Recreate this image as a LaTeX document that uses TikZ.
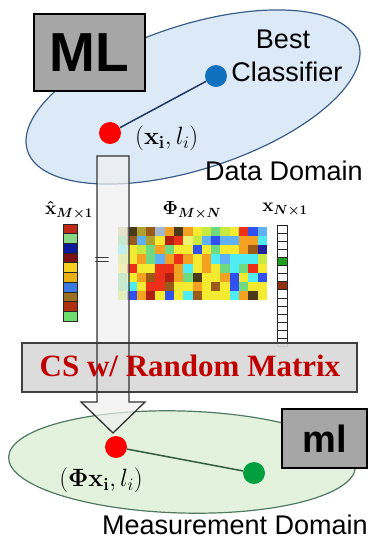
\RequirePackage{fix-cm}
\documentclass[tikz,border=0pt]{standalone}
\usepackage[no-math]{fontspec}
\usepackage{amsmath,bm}
\usetikzlibrary{shapes.geometric}
\newfontfamily\arial{Liberation Sans}
\newfontfamily\tnr{Liberation Serif}
\definecolor{ellblue}{HTML}{DCE9F6}
\definecolor{ellblueline}{HTML}{3A5E8C}
\definecolor{ellgreen}{HTML}{E3F2DC}
\definecolor{ellgreenline}{HTML}{4E7A62}
\definecolor{boxgray}{HTML}{A6A6A6}
\definecolor{csgray}{HTML}{D9D9D9}
\definecolor{csred}{HTML}{C00000}
\definecolor{dotblue}{HTML}{1070C0}
\definecolor{dotgreen}{HTML}{00A040}
\definecolor{navyline}{HTML}{1F3864}
\definecolor{greenline}{HTML}{2F5E3F}
\definecolor{mT}{HTML}{D0C470}
\definecolor{mK}{HTML}{4A3A18}
\definecolor{mO}{HTML}{B0A030}
\definecolor{mBr}{HTML}{9A5A18}
\definecolor{mG}{HTML}{A0B8D0}
\definecolor{mOr}{HTML}{F4A020}
\definecolor{mY}{HTML}{F4EA30}
\definecolor{mYG}{HTML}{C8EA40}
\definecolor{mC}{HTML}{50ECF4}
\definecolor{mLB}{HTML}{60B0F4}
\definecolor{mB}{HTML}{3050F0}
\definecolor{mR}{HTML}{EC3018}
\definecolor{mDR}{HTML}{B02010}
\definecolor{mGr}{HTML}{70DA80}
\definecolor{mDB}{HTML}{2020A0}
\definecolor{mLY}{HTML}{ECF470}
\definecolor{vA}{HTML}{C02818}
\definecolor{vB}{HTML}{88D888}
\definecolor{vC}{HTML}{0A1A9A}
\definecolor{vD}{HTML}{7A1010}
\definecolor{vE}{HTML}{F5D020}
\definecolor{vF}{HTML}{E8B010}
\definecolor{vG}{HTML}{3A7AE0}
\definecolor{vH}{HTML}{9A7020}
\definecolor{vI}{HTML}{B03010}
\definecolor{vJ}{HTML}{6DDC6D}
\definecolor{xgreen}{HTML}{20A020}
\definecolor{xbrown}{HTML}{903010}
\tikzset{
  dom/.style={ellipse, inner sep=0pt, line width=1.2pt},
  mlbox/.style={rectangle, draw=black, line width=2pt, fill=boxgray, inner sep=0pt},
  dotnode/.style={circle, inner sep=0pt, minimum size=22pt},
  sanslabel/.style={font=\arial\fontsize{27}{33}\selectfont, inner sep=0pt},
  mathlabel/.style={font=\fontsize{25}{29}\selectfont, inner sep=0pt},
  veclabel/.style={font=\fontsize{19}{22}\selectfont\boldmath, inner sep=0pt},
  arrowfill/.style={fill=white!94!black},
  arrowline/.style={draw=black!80, line width=1.3pt, line join=miter},
}
\begin{document}
\begin{tikzpicture}[x=1pt,y=-1pt]
\useasboundingbox (0,0) rectangle (383,550);

% ---------- Data domain ----------
\node[dom, draw=ellblueline, fill=ellblue, minimum width=348pt, minimum height=144pt, rotate=18] (datadom) at (193,97) {};
\node[mlbox, minimum width=111pt, minimum height=77pt, font=\arial\bfseries\fontsize{55}{60}\selectfont] (ML) at (89.5,52.5) {ML};
\node[sanslabel, anchor=base] (best) at (283,48) {Best};
\node[sanslabel, anchor=base] (classifier) at (287,81) {Classifier};
\node[sanslabel, anchor=base] (datalabel) at (284,180) {Data Domain};

% ---------- Matrix equation ----------
\node[veclabel] (xhatlab) at (69,210) {$\hat{\mathbf{x}}_{\bm{M\times 1}}$};
\node[veclabel] (philab) at (192,210) {$\mathbf{\Phi}_{\bm{M\times N}}$};
\node[veclabel] (xlab) at (285,210) {$\mathbf{x}_{\bm{N\times 1}}$};

% x-hat vector
\foreach \c [count=\i from 0] in {vA,vB,vC,vD,vE,vF,vG,vH,vI,vJ}{
  \filldraw[fill=\c, draw=black!85, line width=0.8pt] (63,{224+\i*9.7}) rectangle (77,{224+(\i+1)*9.7});
}
% Phi matrix
\foreach \row/\cols in {
  0/{mT,mK,mO,mBr,mG,mOr,mK,mOr,mY,mYG,mGr,mYG,mY,mR,mB,mLB},
  1/{mGr,mBr,mLB,mO,mY,mDR,mR,mLY,mYG,mLB,mB,mLB,mLB,mOr,mOr,mC},
  2/{mC,mY,mYG,mGr,mOr,mGr,mY,mY,mB,mY,mGr,mY,mY,mOr,mBr,mDB},
  3/{mYG,mY,mOr,mGr,mLB,mOr,mR,mOr,mY,mOr,mC,mLB,mC,mC,mC,mYG},
  4/{mY,mR,mY,mY,mR,mR,mOr,mC,mY,mOr,mY,mGr,mC,mGr,mR,mY},
  5/{mGr,mY,mOr,mBr,mR,mDR,mOr,mGr,mK,mY,mY,mOr,mB,mY,mC,mB},
  6/{mGr,mC,mY,mR,mR,mBr,mY,mY,mOr,mY,mBr,mY,mB,mGr,mY,mY},
  7/{mYG,mB,mOr,mDR,mY,mB,mY,mC,mBr,mY,mY,mY,mC,mOr,mK,mY}}{
  \foreach \c [count=\i from 0] in \cols{
    \fill[\c] ({118+\i*9.3125},{227+\row*9.125}) rectangle ({118+(\i+1)*9.3125},{227+(\row+1)*9.125});
  }
}
% x vector
\foreach \i in {0,...,14}{
  \def\cc{white}
  \ifnum\i=4 \def\cc{xgreen}\fi
  \ifnum\i=7 \def\cc{xbrown}\fi
  \filldraw[fill=\cc, draw=black!85, line width=0.8pt] (277,{225+\i*8.1}) rectangle (287,{225+(\i+1)*8.1});
}

% ---------- Big hollow arrow corners ----------
\coordinate (a1) at (97,156);
\coordinate (a2) at (129,156);
\coordinate (a3) at (129,402);
\coordinate (a4) at (145,402);
\coordinate (a5) at (113,433);
\coordinate (a6) at (81,402);
\coordinate (a7) at (97,402);

% ---------- Measurement domain ----------
\node[dom, draw=ellgreenline, fill=ellgreen, minimum width=347pt, minimum height=102pt, rotate=-1.6] (measdom) at (182,462) {};
\node[mlbox, minimum width=85pt, minimum height=59pt, font=\arial\bfseries\fontsize{38}{42}\selectfont] (ml) at (324.5,438.5) {ml};

\fill[arrowfill, fill opacity=0.7] (a1) -- (a2) -- (a3) -- (a4) -- (a5) -- (a6) -- (a7) -- cycle;
\node[font=\fontsize{22}{24}\selectfont, inner sep=0pt] (eq) at (102,262) {$=$};

% CS box
\node[rectangle, draw=black!75, line width=1.3pt, fill=csgray, fill opacity=0.92, minimum width=335pt, minimum height=49pt, inner sep=0pt] (csbox) at (189.5,367.5) {};
\draw[arrowline] (a1) -- (a2) -- (a3) -- (a4) -- (a5) -- (a6) -- (a7) -- cycle;
\node[font=\tnr\bfseries\fontsize{31}{36}\selectfont, text=csred, inner sep=0pt] (cstext) at (190,366) {CS w/ Random Matrix};

% ---------- Points and links ----------
\node[dotnode, fill=red] (x1) at (110,133) {};
\node[dotnode, fill=dotblue] (bestpt) at (216,76) {};
\draw[navyline, line width=1.5pt] (x1) -- (bestpt);
\node[mathlabel, anchor=west] (x1lab) at (135,138) {$(\mathbf{x}_{\mathbf{i}}, l_i)$};

\node[dotnode, fill=red] (x2) at (116,447) {};
\node[dotnode, fill=dotgreen] (greenpt) at (254,473) {};
\draw[greenline, line width=1.5pt] (x2) -- (greenpt);
\node[mathlabel] (x2lab) at (101,480) {$(\mathbf{\Phi}\mathbf{x}_{\mathbf{i}}, l_i)$};

\node[sanslabel, anchor=base] (measlabel) at (235,534) {Measurement Domain};
\end{tikzpicture}
\end{document}
